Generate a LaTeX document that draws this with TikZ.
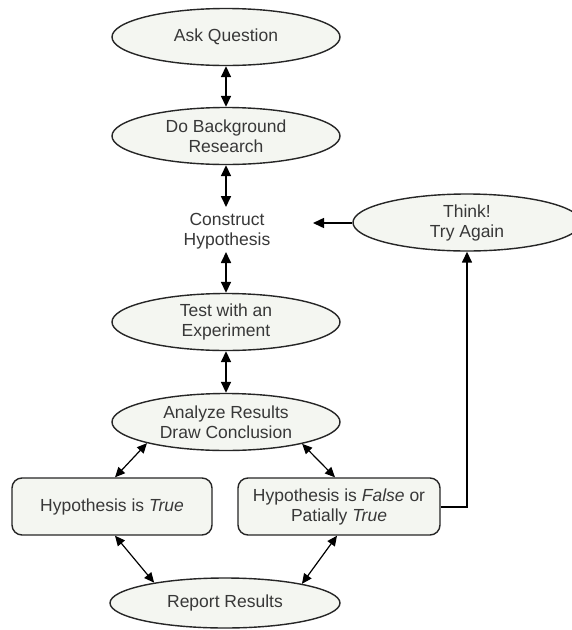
\documentclass[tikz,border=0pt]{standalone}
\usepackage{fontspec}
\setmainfont{Liberation Sans}
\usetikzlibrary{shapes.geometric,arrows.meta}
\definecolor{fillc}{HTML}{F4F6F1}
\definecolor{linec}{HTML}{262626}
\definecolor{textc}{HTML}{383838}
\tikzset{
  every node/.style={font=\fontsize{17.5}{20}\selectfont, text=textc, align=center},
  oval/.style={ellipse, draw=linec, line width=1.4pt, fill=fillc, minimum width=228pt, minimum height=57pt, inner sep=0pt},
  rbox/.style={rectangle, rounded corners=10pt, draw=linec, line width=1.4pt, fill=fillc, minimum height=57pt, inner sep=0pt},
  dbl/.style={{Triangle[length=11pt,width=10pt]}-{Triangle[length=11pt,width=10pt]}, line width=1.7pt, draw=black},
  dbls/.style={{Triangle[length=10pt,width=9pt]}-{Triangle[length=10pt,width=9pt]}, line width=1.2pt, draw=black},
  sgl/.style={-{Triangle[length=11pt,width=10pt]}, line width=1.5pt, draw=black},
}
\begin{document}
\begin{tikzpicture}[x=1pt,y=-1pt]
\clip (0,0) rectangle (572,630);
\fill[white] (0,0) rectangle (572,630);
\node[oval] (ask) at (226,37) {Ask Question};
\node[oval] (research) at (226,136) {Do Background\\Research};
\node[inner sep=0pt] (construct) at (227,231) {Construct\\Hypothesis};
\node[oval] (test) at (226,322) {Test with an\\Experiment};
\node[oval] (analyze) at (226,422) {Analyze Results\\Draw Conclusion};
\node[rbox, minimum width=200pt] (true) at (112,506.5) {Hypothesis is \textit{True}};
\node[rbox, minimum width=202pt] (false) at (339,506.5) {Hypothesis is \textit{False} or\\Patially \textit{True}};
\node[oval, minimum width=230pt, minimum height=50pt] (report) at (225,603) {Report Results};
\node[oval] (think) at (467,222.5) {Think!\\Try Again};
\coordinate (ctin) at (313,223);
\coordinate (cttop) at (226,207);
\coordinate (ctbot) at (226,252);
\coordinate (corner) at (467,507);

\draw[dbl] (ask.south) -- (research.north);
\draw[dbl] (research.south) -- (cttop);
\draw[dbl] (ctbot) -- (test.north);
\draw[dbl] (test.south) -- (analyze.north);
\draw[dbls] (analyze.195) -- ([xshift=3pt]true.north);
\draw[dbls] (analyze.344) -- ([xshift=-4pt]false.north);
\draw[dbls] ([xshift=3pt]true.south) -- (report.164);
\draw[dbls] ([xshift=-2pt]false.south) -- (report.14);
\draw[sgl] (think.west |- ctin) -- (ctin);
\draw[sgl] (false.east |- corner) -- (corner) -- (think.south);
\end{tikzpicture}
\end{document}
